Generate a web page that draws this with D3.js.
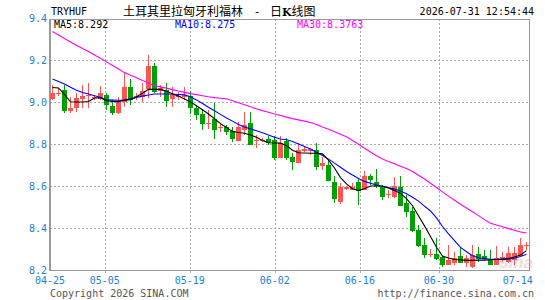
<!DOCTYPE html>
<html>
<head>
<meta charset="utf-8">
<script src="https://cdn.jsdelivr.net/npm/d3@7"></script>
<style>
  body { margin: 0; background: #fff; }
  svg { display: block; }
  text { font-family: "DejaVu Sans Mono", monospace; font-size: 10px; }
</style>
</head>
<body>
<svg id="chart" width="545" height="300"></svg>
<script>
// daily candles, one slot each
const dates = [
  "04-25","04-27","04-28","04-29","04-30","05-01","05-02","05-03","05-04","05-05",
  "05-06","05-07","05-08","05-09","05-10","05-11","05-12","05-13","05-14","05-15",
  "05-16","05-17","05-18","05-19","05-20","05-21","05-22","05-23","05-24","05-25",
  "05-26","05-27","05-28","05-29","05-30","05-31","06-01","06-02","06-03","06-04",
  "06-05","06-06","06-07","06-08","06-09","06-10","06-11","06-12","06-13","06-14",
  "06-15","06-16","06-17","06-18","06-19","06-20","06-22","06-23","06-24","06-25",
  "06-26","06-27","06-28","06-29","06-30","07-01","07-02","07-03","07-04","07-06",
  "07-07","07-08","07-09","07-10","07-11","07-12","07-13","07-14","07-15","07-16"
];
const opens = [
  9.014,9.038,9.057,8.957,8.970,9.013,9.029,9.019,9.013,9.033,
  8.981,8.949,9.001,9.073,9.024,9.025,9.061,9.171,9.054,9.055,
  9.016,9.024,9.024,9.029,8.970,8.943,8.899,8.919,8.878,8.880,
  8.863,8.814,8.865,8.901,8.814,8.814,8.822,8.821,8.732,8.814,
  8.740,8.708,8.769,8.769,8.771,8.695,8.700,8.621,8.525,8.588,
  8.583,8.621,8.579,8.646,8.621,8.594,8.555,8.549,8.594,8.519,
  8.482,8.391,8.319,8.271,8.276,8.261,8.224,8.233,8.267,8.233,
  8.216,8.276,8.267,8.250,8.226,8.248,8.240,8.248,8.267,8.317
];
const highs = [
  9.081,9.067,9.081,9.024,9.043,9.081,9.091,9.033,9.076,9.044,
  9.010,9.024,9.143,9.108,9.043,9.091,9.224,9.184,9.081,9.089,
  9.071,9.048,9.073,9.054,8.986,8.962,8.962,8.995,8.900,8.891,
  8.882,8.905,8.954,8.954,8.843,8.829,8.838,8.838,8.838,8.829,
  8.757,8.805,8.786,8.781,8.805,8.740,8.724,8.648,8.614,8.600,
  8.614,8.633,8.673,8.657,8.681,8.605,8.581,8.644,8.648,8.557,
  8.501,8.414,8.351,8.300,8.352,8.267,8.319,8.287,8.310,8.271,
  8.319,8.310,8.295,8.295,8.314,8.287,8.311,8.311,8.352,8.335
];
const lows = [
  9.010,9.029,8.949,8.949,8.952,8.971,8.970,9.010,9.010,8.962,
  8.938,8.943,8.976,8.986,9.010,9.001,9.018,9.041,9.025,8.978,
  8.978,9.010,9.010,8.943,8.914,8.867,8.871,8.824,8.857,8.843,
  8.811,8.814,8.843,8.795,8.780,8.810,8.795,8.724,8.732,8.724,
  8.676,8.708,8.762,8.748,8.676,8.676,8.625,8.518,8.514,8.581,
  8.581,8.510,8.579,8.605,8.591,8.533,8.543,8.541,8.505,8.454,
  8.382,8.311,8.256,8.262,8.248,8.216,8.224,8.224,8.233,8.216,
  8.210,8.240,8.248,8.224,8.224,8.240,8.232,8.224,8.267,8.295
];
const closes = [
  9.044,9.043,8.957,8.973,9.018,9.030,9.033,9.024,9.044,8.986,
  8.949,9.001,9.073,9.008,9.027,9.054,9.171,9.049,9.067,9.006,
  9.031,9.029,9.033,8.970,8.938,8.895,8.902,8.867,8.882,8.859,
  8.824,8.881,8.891,8.795,8.819,8.819,8.805,8.732,8.805,8.733,
  8.716,8.771,8.774,8.774,8.689,8.711,8.625,8.536,8.593,8.593,
  8.593,8.576,8.648,8.629,8.600,8.546,8.560,8.600,8.505,8.478,
  8.387,8.314,8.271,8.276,8.251,8.224,8.248,8.255,8.235,8.256,
  8.271,8.251,8.251,8.226,8.256,8.261,8.280,8.280,8.319,8.321
];
// moving averages as drawn
const ma5 = [
  9.069,9.067,9.036,9.001,9.000,9.000,9.002,9.019,9.020,9.006,
  9.003,9.002,9.009,9.011,9.025,9.042,9.060,9.060,9.060,9.051,
  9.039,9.028,9.014,9.000,8.982,8.963,8.943,8.920,8.897,8.879,
  8.860,8.855,8.851,8.843,8.832,8.817,8.806,8.805,8.804,8.792,
  8.770,8.758,8.757,8.756,8.756,8.753,8.723,8.686,8.640,8.610,
  8.587,8.579,8.587,8.600,8.600,8.600,8.590,8.578,8.565,8.540,
  8.506,8.458,8.410,8.360,8.308,8.266,8.257,8.250,8.248,8.246,
  8.246,8.247,8.247,8.249,8.250,8.252,8.255,8.262,8.271,8.292
];
const ma10 = [
  9.110,9.098,9.086,9.070,9.056,9.045,9.038,9.030,9.023,9.010,
  9.009,9.008,9.009,9.015,9.022,9.028,9.033,9.038,9.038,9.038,
  9.037,9.036,9.034,9.025,9.010,8.993,8.975,8.958,8.941,8.924,
  8.909,8.893,8.881,8.872,8.863,8.854,8.843,8.832,8.824,8.820,
  8.812,8.800,8.788,8.776,8.761,8.745,8.728,8.709,8.689,8.669,
  8.652,8.636,8.622,8.613,8.605,8.598,8.593,8.585,8.576,8.563,
  8.546,8.528,8.504,8.481,8.448,8.407,8.372,8.340,8.308,8.287,
  8.268,8.258,8.254,8.251,8.251,8.251,8.251,8.257,8.264,8.275
];
const ma30 = [
  9.336,9.319,9.302,9.286,9.270,9.255,9.240,9.224,9.208,9.191,
  9.174,9.157,9.140,9.127,9.115,9.102,9.090,9.079,9.072,9.066,
  9.059,9.052,9.046,9.040,9.035,9.030,9.025,9.021,9.018,9.015,
  9.006,8.996,8.987,8.977,8.968,8.959,8.951,8.943,8.936,8.928,
  8.921,8.915,8.909,8.902,8.893,8.881,8.870,8.858,8.846,8.834,
  8.817,8.799,8.780,8.762,8.744,8.729,8.717,8.706,8.694,8.683,
  8.669,8.651,8.633,8.613,8.593,8.572,8.552,8.532,8.513,8.495,
  8.477,8.459,8.440,8.423,8.414,8.406,8.397,8.389,8.381,8.376
];
const priceTicks = [8.2, 8.4, 8.6, 8.8, 9.0, 9.2, 9.4];
const dateTicks = ["04-25", "05-05", "05-19", "06-02", "06-16", "06-30", "07-14"];
const maNames = ["MA5:8.292", "MA10:8.275", "MA30:8.3763"];

const plotLeft = 50, plotRight = 530, plotTop = 19, plotBottom = 270;
const upColor = "#ff5454", downColor = "#00a000";
const labelBlue = "#1e7fd2";

const svg = d3.select("#chart");

const x = d3.scaleBand()
  .domain(dates)
  .range([plotLeft, plotRight])
  .paddingInner(1 / 6)
  .paddingOuter(1 / 12)
  .align(0);
// grid positions are spread over the slot count
const gx = d3.scaleLinear().domain([0, dates.length - 1]).range([plotLeft, plotRight]);
const y = d3.scaleLinear().domain([8.2, 9.4]).range([plotBottom, 18]);

const candles = dates.map((d, i) => ({
  d: d, o: opens[i], h: highs[i], l: lows[i], c: closes[i]
}));

// watermark
svg.append("text")
  .attr("x", 499).attr("y", 268)
  .style("font-family", "Liberation Sans, sans-serif")
  .style("font-size", "17px")
  .style("font-style", "italic")
  .style("font-weight", "bold")
  .attr("fill", "#f4dada")
  .text("sina");

// horizontal grid
svg.append("g")
  .selectAll("line")
  .data(priceTicks.filter(v => v > 8.2 && v < 9.4))
  .join("line")
  .attr("x1", plotLeft).attr("x2", plotRight)
  .attr("y1", d => Math.round(y(d)) + 0.5)
  .attr("y2", d => Math.round(y(d)) + 0.5)
  .attr("stroke", "#aaa")
  .attr("stroke-dasharray", "2,2")
  .attr("shape-rendering", "crispEdges");

// vertical grid
svg.append("g")
  .selectAll("line")
  .data(dateTicks.slice(1, -1))
  .join("line")
  .attr("x1", d => Math.round(gx(dates.indexOf(d))) + 0.5)
  .attr("x2", d => Math.round(gx(dates.indexOf(d))) + 0.5)
  .attr("y1", plotTop).attr("y2", plotBottom + 3)
  .attr("stroke", "#aaa")
  .attr("stroke-dasharray", "2,2")
  .attr("shape-rendering", "crispEdges");

// frame
svg.append("rect")
  .attr("x", plotLeft + 0.5).attr("y", plotTop + 0.5)
  .attr("width", plotRight - plotLeft - 1).attr("height", plotBottom - plotTop)
  .attr("fill", "none")
  .attr("stroke", "#999")
  .attr("shape-rendering", "crispEdges");
svg.append("line")
  .attr("x1", plotLeft).attr("x2", plotLeft)
  .attr("y1", plotTop).attr("y2", plotBottom + 1)
  .attr("stroke", "#999").attr("stroke-width", 2)
  .attr("shape-rendering", "crispEdges");

// candles
const cg = svg.append("g").attr("shape-rendering", "crispEdges");
cg.selectAll(".wick")
  .data(candles)
  .join("rect")
  .attr("class", "wick")
  .attr("x", d => x(d.d) + 2)
  .attr("width", 1)
  .attr("y", d => y(d.h))
  .attr("height", d => Math.max(1, y(d.l) - y(d.h)))
  .attr("fill", d => d.c >= d.o ? upColor : downColor);
cg.selectAll(".body")
  .data(candles)
  .join("rect")
  .attr("class", "body")
  .attr("x", d => x(d.d))
  .attr("width", x.bandwidth())
  .attr("y", d => y(Math.max(d.o, d.c)))
  .attr("height", d => Math.max(1, Math.abs(y(d.o) - y(d.c))))
  .attr("fill", d => d.c >= d.o ? upColor : downColor);

// MA lines
const maLine = d3.line()
  .x((v, i) => x(dates[i]) + x.bandwidth() / 2)
  .y(v => y(v));
[[ma30, "#ff00ff"], [ma10, "#0000ff"], [ma5, "#000"]].forEach(([vals, col]) => {
  svg.append("path")
    .datum(vals)
    .attr("d", maLine)
    .attr("fill", "none")
    .attr("stroke", col)
    .attr("stroke-width", 1.1);
});

// y labels
svg.append("g")
  .selectAll("text")
  .data(priceTicks)
  .join("text")
  .attr("x", 47)
  .attr("y", d => y(d) + 3.5)
  .attr("text-anchor", "end")
  .attr("fill", labelBlue)
  .text(d => d.toFixed(1));

// x labels
svg.append("g")
  .selectAll("text")
  .data(dateTicks)
  .join("text")
  .attr("x", d => gx(dates.indexOf(d)))
  .attr("y", 284)
  .attr("text-anchor", "middle")
  .attr("fill", labelBlue)
  .text(d => d);

// legend
svg.append("g")
  .selectAll("text")
  .data(maNames)
  .join("text")
  .attr("x", (d, i) => [54, 175, 297][i])
  .attr("y", 28)
  .attr("fill", (d, i) => ["#000", "#0000ff", "#ff00ff"][i])
  .text(d => d);

// header
svg.append("text").attr("x", 51).attr("y", 15).attr("fill", "#000").text("TRYHUF");
const title = svg.append("text")
  .attr("y", 16)
  .style("font-family", "'Noto Sans CJK SC', sans-serif")
  .style("font-size", "12px")
  .attr("fill", "#000");
title.append("tspan").attr("x", 123).text("土耳其里拉匈牙利福林");
title.append("tspan").attr("x", 255).text("-");
title.append("tspan").attr("x", 270).text("日");
title.append("tspan").style("font-weight", "bold").style("font-size", "11px")
  .style("font-family", "'DejaVu Serif', serif").text("K");
title.append("tspan").text("线图");
svg.append("text").attr("x", 534).attr("y", 15).attr("text-anchor", "end")
  .attr("fill", "#000").text("2026-07-31 12:54:44");

// footer
svg.append("text").attr("x", 50).attr("y", 297).attr("fill", "#555")
  .text("Copyright 2026 SINA.COM");
svg.append("text").attr("x", 534).attr("y", 297).attr("text-anchor", "end")
  .attr("fill", "#555").text("http://finance.sina.com.cn");
</script>
</body>
</html>
